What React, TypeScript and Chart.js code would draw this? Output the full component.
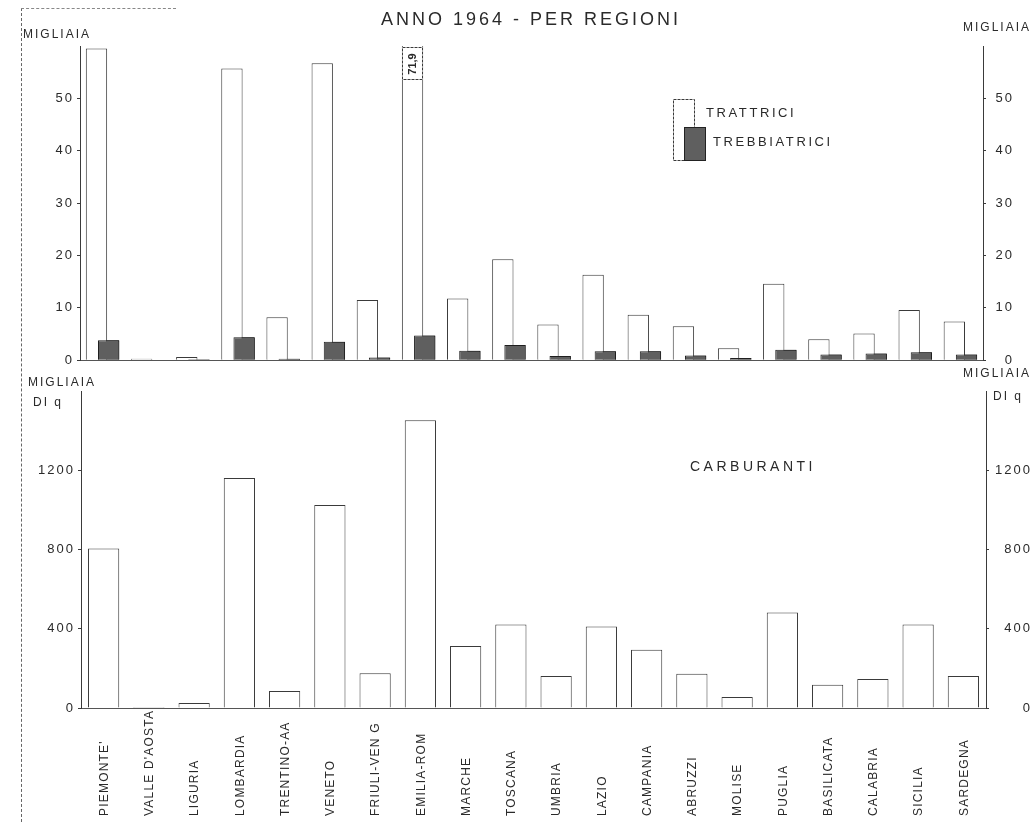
import React, { useEffect, useRef } from 'react';
import { Chart, registerables } from 'chart.js';

Chart.register(...registerables);

const regions = [
  "PIEMONTE'", "VALLE D'AOSTA", 'LIGURIA', 'LOMBARDIA', 'TRENTINO-AA', 'VENETO',
  'FRIULI-VEN G', 'EMILIA-ROM', 'MARCHE', 'TOSCANA', 'UMBRIA', 'LAZIO', 'CAMPANIA',
  'ABRUZZI', 'MOLISE', 'PUGLIA', 'BASILICATA', 'CALABRIA', 'SICILIA', 'SARDEGNA',
];
// migliaia
const trattrici = [59.5, 0.3, 0.6, 55.7, 8.2, 56.7, 11.5, 71.9, 11.8, 19.3, 6.8, 16.3, 8.7, 6.5, 2.3, 14.6, 4.0, 5.1, 9.6, 7.4];
const trebbiatrici = [3.8, 0.1, 0.2, 4.4, 0.3, 3.5, 0.5, 4.7, 1.8, 2.9, 0.8, 1.7, 1.7, 0.9, 0.4, 2.0, 1.1, 1.3, 1.5, 1.1];
// migliaia di q
const carburanti = [805, 5, 25, 1161, 86, 1025, 176, 1452, 313, 422, 162, 411, 294, 173, 56, 482, 117, 147, 421, 162];

const topTicks = [0, 10, 20, 30, 40, 50];
const bottomTicks = [0, 400, 800, 1200];

const title = 'ANNO 1964 - PER REGIONI';
const unitTop = 'MIGLIAIA';
const unitBottom = ['MIGLIAIA', 'DI q'];
const legendLabels = ['TRATTRICI', 'TREBBIATRICI'];
const bottomTitle = 'CARBURANTI';

const INK = '#2a2a2a';
const LINE = '#3a3a3a';
const DARK = '#5f5f5f';
const FONT = '"Liberation Sans", Arial, sans-serif';

function text(ctx: CanvasRenderingContext2D, s: string, x: number, y: number, size: number, ls: number, align: CanvasTextAlign = 'left', weight = 'normal') {
  ctx.save();
  ctx.font = `${weight} ${size}px ${FONT}`;
  (ctx as any).letterSpacing = `${ls}px`;
  ctx.fillStyle = INK;
  ctx.textAlign = align;
  ctx.textBaseline = 'middle';
  ctx.fillText(s, x, y);
  ctx.restore();
}

const topDecor = {
  id: 'topDecor',
  beforeDraw(chart: any) {
    chart.ctx.letterSpacing = '2px';
  },
  afterDatasetsDraw(chart: any) {
    const ctx: CanvasRenderingContext2D = chart.ctx;
    // dark bars overlap the white ones
    chart.getDatasetMeta(1).controller.draw();
    const meta = chart.getDatasetMeta(0);
    const yMax = chart.scales.y.max;
    const top = chart.chartArea.top;
    trattrici.forEach((v, i) => {
      if (v <= yMax) return;
      const el = meta.data[i];
      const w = el.width;
      const x0 = el.x - w / 2;
      ctx.save();
      ctx.fillStyle = '#fff';
      ctx.fillRect(x0, top + 1, w, 33);
      ctx.strokeStyle = LINE;
      ctx.lineWidth = 1;
      ctx.setLineDash([3, 1]);
      ctx.strokeRect(Math.round(x0) + 0.5, top + 1.5, Math.round(w) - 1, 32);
      ctx.setLineDash([]);
      ctx.translate(el.x, top + 18);
      ctx.rotate(-Math.PI / 2);
      ctx.font = `bold 11px ${FONT}`;
      (ctx as any).letterSpacing = '0px';
      ctx.fillStyle = INK;
      ctx.textAlign = 'center';
      ctx.textBaseline = 'middle';
      ctx.fillText(String(v).replace('.', ','), 0, 0);
      ctx.restore();
    });
  },
  afterDraw(chart: any) {
    const ctx: CanvasRenderingContext2D = chart.ctx;
    text(ctx, title, 531, 20, 18, 3, 'center');
    text(ctx, unitTop, 23, 35, 12, 2);
    text(ctx, unitTop, 963, 28, 12, 2);
    // legend
    ctx.save();
    ctx.strokeStyle = LINE;
    ctx.lineWidth = 1;
    ctx.setLineDash([3, 1]);
    ctx.fillStyle = '#fff';
    ctx.fillRect(673, 99, 21, 61);
    ctx.strokeRect(673.5, 99.5, 21, 61);
    ctx.setLineDash([]);
    ctx.fillStyle = DARK;
    ctx.fillRect(684, 127, 21, 33);
    ctx.strokeStyle = '#222';
    ctx.strokeRect(684.5, 127.5, 21, 33);
    ctx.restore();
    text(ctx, legendLabels[0], 706, 113, 13, 2.6);
    text(ctx, legendLabels[1], 713, 142, 13, 2.6);
  },
};

const bottomDecor = {
  id: 'bottomDecor',
  beforeDraw(chart: any) {
    chart.ctx.letterSpacing = '2px';
  },
  afterDraw(chart: any) {
    const ctx: CanvasRenderingContext2D = chart.ctx;
    const xs = chart.scales.x;
    regions.forEach((lab, i) => {
      const x = xs.getPixelForValue(i);
      ctx.save();
      ctx.translate(x + 1, 452);
      ctx.rotate(-Math.PI / 2);
      ctx.font = `12px ${FONT}`;
      (ctx as any).letterSpacing = '1.2px';
      ctx.fillStyle = INK;
      ctx.textAlign = 'left';
      ctx.textBaseline = 'middle';
      ctx.fillText(lab, 0, 0);
      ctx.restore();
    });
    text(ctx, unitBottom[0], 28, 19, 12, 2);
    text(ctx, unitBottom[1], 33, 39, 12, 2);
    text(ctx, unitBottom[0], 963, 10, 12, 2);
    text(ctx, unitBottom[1], 993, 33, 12, 2);
    text(ctx, bottomTitle, 690, 103, 14, 3.5);
  },
};

function yAxis(position: 'left' | 'right', max: number, tickVals: number[], width: number, padding: number) {
  return {
    position,
    min: 0,
    max,
    afterBuildTicks: (a: any) => {
      a.ticks = tickVals.map((v) => ({ value: v }));
    },
    afterFit: (s: any) => {
      s.width = width;
    },
    ticks: {
      padding,
      color: INK,
      crossAlign: position === 'right' ? 'far' : 'near',
      font: { size: 13, family: FONT },
      callback: (v: any) => String(v),
    },
    grid: { drawOnChartArea: false, drawTicks: true, tickLength: 3, color: LINE, tickColor: LINE },
    border: { display: true, color: LINE, dash: [4, 2], width: 1 },
  };
}

const xAxis = {
  grid: { display: false },
  ticks: { display: false },
  border: { display: true, color: '#555', dash: [2, 2], width: 1 },
  afterFit: (s: any) => {
    s.height = 0;
  },
};

export default function App() {
  const topRef = useRef<HTMLCanvasElement>(null);
  const botRef = useRef<HTMLCanvasElement>(null);

  useEffect(() => {
    const c1 = new Chart(topRef.current as HTMLCanvasElement, {
      type: 'bar',
      data: {
        labels: regions,
        datasets: [
          {
            label: legendLabels[0],
            data: trattrici,
            backgroundColor: '#ffffff',
            borderColor: LINE,
            borderWidth: 1,
            barPercentage: 1.75,
            categoryPercentage: 0.54,
          },
          {
            label: legendLabels[1],
            data: trebbiatrici,
            backgroundColor: DARK,
            borderColor: '#1f1f1f',
            borderWidth: 1,
            barPercentage: 1.75,
            categoryPercentage: 0.54,
          },
        ],
      },
      options: {
        responsive: false,
        animation: false,
        layout: { padding: { top: 46, bottom: 7, left: 0, right: 16 } },
        plugins: { legend: { display: false }, tooltip: { enabled: false }, title: { display: false } },
        scales: {
          x: xAxis as any,
          y: yAxis('left', 60, topTicks, 80, 3) as any,
          y2: yAxis('right', 60, topTicks, 31, 4) as any,
        },
      },
      plugins: [topDecor as any],
    });

    const c2 = new Chart(botRef.current as HTMLCanvasElement, {
      type: 'bar',
      data: {
        labels: regions,
        datasets: [
          {
            label: bottomTitle,
            data: carburanti,
            backgroundColor: '#ffffff',
            borderColor: LINE,
            borderWidth: 1,
            barPercentage: 0.69,
            categoryPercentage: 1,
          },
        ],
      },
      options: {
        responsive: false,
        animation: false,
        layout: { padding: { top: 27, bottom: 119, left: 0, right: 8 } },
        plugins: { legend: { display: false }, tooltip: { enabled: false }, title: { display: false } },
        scales: {
          x: xAxis as any,
          y: yAxis('left', 1600, bottomTicks, 81, 3) as any,
          y2: yAxis('right', 1600, bottomTicks, 46, 4) as any,
        },
      },
      plugins: [bottomDecor as any],
    });

    return () => {
      c1.destroy();
      c2.destroy();
    };
  }, []);

  return (
    <div style={{ position: 'absolute', left: 0, top: 0, width: 1030, height: 827, overflow: 'hidden', background: '#fff' }}>
      <div style={{ position: 'absolute', left: 21, top: 8, width: 0, height: 814, borderLeft: '1px dashed #666' }} />
      <div style={{ position: 'absolute', left: 21, top: 8, width: 155, height: 0, borderTop: '1px dashed #888' }} />
      <canvas ref={topRef} width={1030} height={372} style={{ position: 'absolute', left: 0, top: 0 }} />
      <canvas ref={botRef} width={1040} height={463} style={{ position: 'absolute', left: 0, top: 364 }} />
    </div>
  );
}
